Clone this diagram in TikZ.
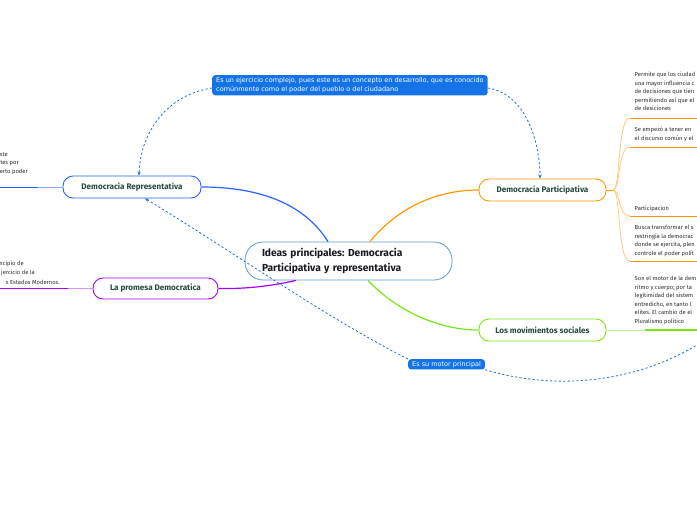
\documentclass[tikz,border=0pt]{standalone}
\usepackage{fontspec}
\setmainfont{Fira Sans}
\newfontfamily\calfont{DejaVu Sans}
\usetikzlibrary{arrows.meta}
\frenchspacing
\definecolor{cblue}{RGB}{91,155,213}
\definecolor{rblue}{RGB}{41,98,255}
\definecolor{rbluel}{RGB}{140,170,255}
\definecolor{orng}{RGB}{255,152,0}
\definecolor{orngl}{RGB}{255,200,120}
\definecolor{purp}{RGB}{170,0,255}
\definecolor{purpl}{RGB}{215,150,255}
\definecolor{grn}{RGB}{118,230,20}
\definecolor{grnl}{RGB}{190,245,140}
\definecolor{calblue}{RGB}{20,115,230}
\definecolor{dashblue}{RGB}{30,110,215}
\definecolor{nodetext}{RGB}{40,75,62}
\definecolor{ctext}{RGB}{25,25,35}
\definecolor{smalltext}{RGB}{45,45,45}
\tikzset{
  central/.style={draw=cblue, fill=white, line width=0.8pt, rounded corners=18pt,
    minimum width=207pt, minimum height=38pt, text width=173pt, inner xsep=17pt,
    align=left, text=ctext, font=\fontsize{10.2}{15.5}\selectfont\bfseries},
  topic/.style={draw=#1, fill=white, line width=0.9pt, rounded corners=10pt,
    minimum height=22pt, inner sep=0pt, text=nodetext,
    font=\fontsize{8.1}{9}\selectfont\bfseries},
  small/.style={font=\fontsize{5.8}{8.5}\selectfont, text=smalltext, inner sep=0pt, align=left},
  callout/.style={fill=calblue, rounded corners=3pt, text=white, align=left,
    font=\calfont\fontsize{6.5}{9.8}\selectfont, inner xsep=4pt, inner ysep=2pt},
  rel/.style={dashblue, line width=0.8pt, dash pattern=on 2.2pt off 2.2pt},
  relarrow/.style={rel, -{Stealth[length=4pt,width=3.5pt]}},
  conn/.style={line width=1.2pt},
}
\begin{document}
\begin{tikzpicture}[x=1pt,y=-1pt]
\useasboundingbox (0,0) rectangle (697,520);
\clip (0,0) rectangle (697,520);

% nodes
\node[central] (c) at (348.5,261) {Ideas principales: Democracia\\Participativa y representativa};
\node[topic=rblue, minimum width=138pt] (r) at (132,187) {Democracia Representativa};
\node[topic=purp, minimum width=125pt, minimum height=21pt] (pr) at (155.5,288.5) {La promesa Democratica};
\node[topic=orng, minimum width=127pt] (p) at (542.5,190) {Democracia Participativa};
\node[topic=grn, minimum width=127pt] (m) at (542.5,330) {Los movimientos sociales};

% callouts
\node[callout, anchor=north west] (k1) at (212,75) {Es un ejercicio complejo, pues este es un concepto en desarrollo, que es conocido\\comúnmente como el poder del pueblo o del ciudadano};
\node[callout, anchor=north west] (k2) at (408,359) {Es su motor principal};

% main connectors
\draw[conn, rblue] (r.east) .. controls (262,187) and (305,205) .. (c.north -| 328,0);
\draw[conn, orng] (c.north -| 370,0) .. controls (400,205) and (440,190) .. (p.west);
\draw[conn, purp] (c.south -| 296,0) .. controls (268,287) and (240,289) .. (pr.east);
\draw[conn, grn] (c.south -| 368,0) .. controls (398,312) and (440,330) .. (m.west);

% left branches
\coordinate (rl) at (0,187);
\coordinate (rm) at (38,187);
\draw[line width=1pt, rbluel] (rm) -- (r.west);
\draw[line width=1pt, rblue] (rl) -- (rm);
\node[small, anchor=east] (ra) at (8,155) {ste};
\node[small, anchor=east] (rb) at (19,163.5) {tes por};
\node[small, anchor=east] (rc) at (28,172) {erto poder};

\coordinate (pl) at (0,288.5);
\coordinate (pm) at (68,288.5);
\draw[line width=1pt, purpl] (pm) -- (pr.west);
\draw[line width=1pt, purp] (pl) -- (pm);
\node[small, anchor=east] (pa) at (24,264) {ncipio de};
\node[small, anchor=east] (pb2) at (35,273) {jercicio de la};
\node[small, anchor=east] (pc) at (60,282) {s Estados Modernos.};

% right orange branches
\coordinate (ob) at (613,190);
\coordinate (u1) at (630,118);
\coordinate (u2) at (630,147);
\coordinate (u3) at (630,216);
\coordinate (u4) at (630,261);
\coordinate (e1) at (697,118);
\coordinate (e2) at (697,147);
\coordinate (e3) at (697,216);
\coordinate (e4) at (697,261);
\draw[line width=1pt, orng] (p.east) -- (ob);
\draw[line width=0.8pt, orngl] (ob) .. controls (621,190) and (617,118) .. (u1);
\draw[line width=0.8pt, orngl] (ob) .. controls (621,190) and (617,147) .. (u2);
\draw[line width=0.8pt, orngl] (ob) .. controls (621,190) and (617,216) .. (u3);
\draw[line width=0.8pt, orngl] (ob) .. controls (621,190) and (617,261) .. (u4);
\draw[line width=1pt, orng] (u1) -- (e1);
\draw[line width=1pt, orng] (u2) -- (e2);
\draw[line width=1pt, orng] (u3) -- (e3);
\draw[line width=1pt, orng] (u4) -- (e4);

\node[small, anchor=north west] (t1) at (634.5,72) {Permite que los ciudad\\una mayor influencia c\\de decisiones que tien\\permitiendo así que el\\de desiciones};
\node[small, anchor=north west] (t2) at (634.5,127) {Se empezó a tener en\\el discurso común y el};
\node[small, anchor=north west] (t3) at (634.5,206) {Participacion};
\node[small, anchor=north west] (t4) at (634.5,225) {Busca transformar el s\\restringía la democrac\\donde se ejercita, plen\\controle el poder polít};

% right green branch
\coordinate (gm) at (645,330);
\coordinate (ge) at (697,330);
\draw[line width=1pt, grnl] (m.east) -- (gm);
\draw[line width=1.2pt, grn] (gm) -- (ge);
\node[small, anchor=north west] (t5) at (634.5,276) {Son el motor de la dem\\ritmo y cuerpo; por ta\\legitimidad del sistem\\entredicho, en tanto l\\elites. El cambio de el\\Pluralismo politico};

% relationship (dashed) connectors
\draw[relarrow] (k1.west |- 0,88) .. controls (165,95) and (140,135) .. (r.north -| 139,0);
\draw[relarrow] (k1.east |- 0,88) .. controls (530,95) and (540,150) .. (p.north -| 540,0);
\draw[relarrow] (k2.north west) .. controls (330,320) and (230,250) .. (r.south -| 145,0);
\coordinate (rx) at (700,343);
\draw[rel] (k2.south east) .. controls (570,395) and (650,375) .. (rx);
\end{tikzpicture}
\end{document}
